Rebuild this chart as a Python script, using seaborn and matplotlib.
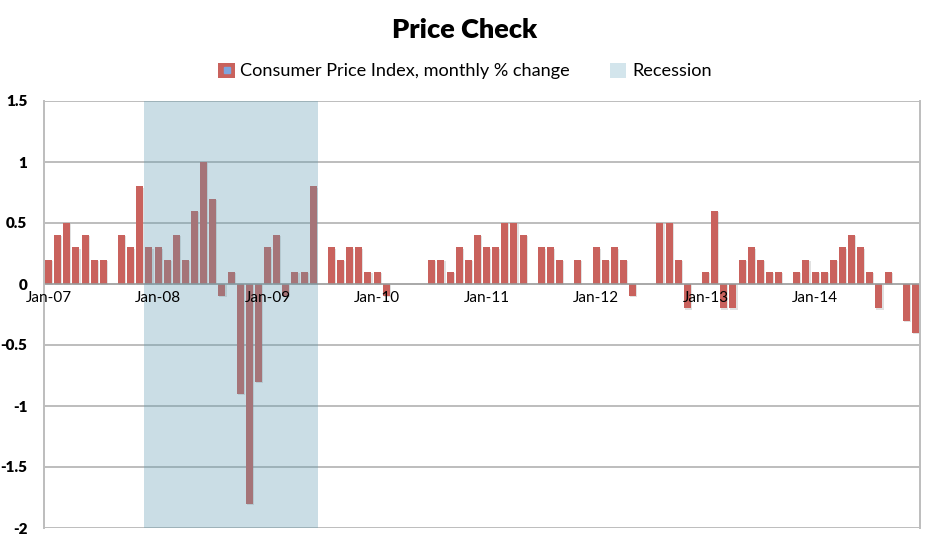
import matplotlib
matplotlib.use("Agg")
import matplotlib.pyplot as plt
import matplotlib.patheffects as pe
from matplotlib.patches import Patch
from matplotlib.lines import Line2D
from matplotlib.legend_handler import HandlerTuple
import seaborn as sns
import pandas as pd

# ---- data ----
years = [2007, 2008, 2009, 2010, 2011, 2012, 2013, 2014]
cpi_2007 = [0.2, 0.4, 0.5, 0.3, 0.4, 0.2, 0.2, 0.0, 0.4, 0.3, 0.8, 0.3]
cpi_2008 = [0.3, 0.2, 0.4, 0.2, 0.6, 1.0, 0.7, -0.1, 0.1, -0.9, -1.8, -0.8]
cpi_2009 = [0.3, 0.4, -0.1, 0.1, 0.1, 0.8, 0.0, 0.3, 0.2, 0.3, 0.3, 0.1]
cpi_2010 = [0.1, -0.1, 0.0, 0.0, 0.0, 0.0, 0.2, 0.2, 0.1, 0.3, 0.2, 0.4]
cpi_2011 = [0.3, 0.3, 0.5, 0.5, 0.4, 0.0, 0.3, 0.3, 0.2, 0.0, 0.2, 0.0]
cpi_2012 = [0.3, 0.2, 0.3, 0.2, -0.1, 0.0, 0.0, 0.5, 0.5, 0.2, -0.2, 0.0]
cpi_2013 = [0.1, 0.6, -0.2, -0.2, 0.2, 0.3, 0.2, 0.1, 0.1, 0.0, 0.1, 0.2]
cpi_2014 = [0.1, 0.1, 0.2, 0.3, 0.4, 0.3, 0.1, -0.2, 0.1, 0.0, -0.3, -0.4]
recession_start = "2007-12"
recession_end = "2009-06"
title = "Price Check"
series_label = "Consumer Price Index, monthly % change"
recession_label = "Recession"
yticks = [-2, -1.5, -1, -0.5, 0, 0.5, 1, 1.5]

cpi = cpi_2007 + cpi_2008 + cpi_2009 + cpi_2010 + cpi_2011 + cpi_2012 + cpi_2013 + cpi_2014
months = [f"{y}-{m:02d}" for y in years for m in range(1, 13)]
df = pd.DataFrame({"month": months, "cpi": cpi})

# ---- style ----
sns.set_theme(style="white")
plt.rcParams["font.family"] = ["Lato", "DejaVu Sans"]
plt.rcParams["text.color"] = "black"
plt.rcParams["xtick.color"] = "black"
plt.rcParams["ytick.color"] = "black"

bar_color = "#C9625D"
rec_color = "#5E9AB0"
grid_color = "#BDBDBD"

fig = plt.figure(figsize=(9.3, 5.41), dpi=100)
ax = fig.add_axes([44 / 930, 1 - 528 / 541, (920 - 44) / 930, (528 - 101) / 541])

sns.barplot(data=df, x="month", y="cpi", order=months, color=bar_color,
            width=0.78, saturation=1, linewidth=0, edgecolor="none", ax=ax, zorder=2)
for p in ax.patches:
    p.set_path_effects([pe.SimplePatchShadow(offset=(0.8, -0.8), shadow_rgbFace="#888888", alpha=0.25),
                        pe.Normal()])

i0 = months.index(recession_start)
i1 = months.index(recession_end)
ax.axvspan(i0 - 0.5, i1 + 0.5, color=rec_color, alpha=0.33, lw=0, zorder=3)

ax.set_xlim(-0.5, len(months) - 0.5)
ax.set_ylim(-2, 1.5)
ax.set_yticks(yticks)
ax.set_yticklabels([f"{v:g}" for v in yticks], fontsize=11, fontweight="heavy")
for v in yticks:
    if v != 0:
        ax.axhline(v, color=grid_color, lw=1.4, zorder=1)
ax.axhline(0, color="#9A9A9A", lw=1.2, zorder=2.5)

jan_idx = [i for i, m in enumerate(months) if m.endswith("-01")]
ax.set_xticks(jan_idx)
ax.set_xticklabels([f"Jan-{str(y)[2:]}" for y in years], fontsize=11, fontweight="heavy")
ax.tick_params(axis="x", length=0, pad=5)
ax.tick_params(axis="y", length=0, pad=12)
ax.xaxis.set_zorder(5)

ax.spines["bottom"].set_position(("data", 0))
ax.spines["bottom"].set_visible(False)
ax.spines["top"].set_visible(False)
for s in ["left", "right"]:
    ax.spines[s].set_color(grid_color)
    ax.spines[s].set_linewidth(1.4)
ax.set_xlabel("")
ax.set_ylabel("")

fig.text(0.5, 1 - 30 / 541, title, ha="center", va="center", fontsize=19.5, fontweight="heavy")

h1 = (Patch(facecolor=bar_color, edgecolor="none"),
      Line2D([], [], marker="s", markersize=5, color="#7EA6DE", linestyle="none"))
h2 = Patch(facecolor="#D3E5EC", edgecolor="none")
fig.legend([h1, h2], [series_label, recession_label],
           handler_map={tuple: HandlerTuple(ndivide=1)},
           loc="center", bbox_to_anchor=(0.5, 1 - 71 / 541), ncol=2, frameon=False,
           fontsize=13.1, handlelength=0.9, handleheight=0.9, handletextpad=0.3,
           columnspacing=2.2)

fig.savefig("out.png", dpi=100)
